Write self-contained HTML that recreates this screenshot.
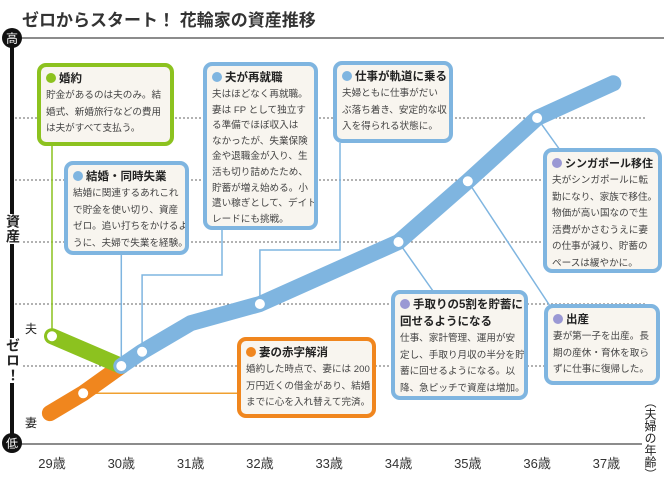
<!DOCTYPE html>
<html><head><meta charset="utf-8">
<style>
body{margin:0;width:664px;height:480px;overflow:hidden;background:#fff;font-family:"Liberation Sans","Noto Sans CJK JP",sans-serif;color:#333;position:relative}
.box{position:absolute;box-sizing:border-box;border:4px solid #7fb5e0;border-radius:9px;background:#f8f5ef;padding:3px 5px;font-size:9.6px;line-height:16.5px;color:#444;white-space:nowrap;overflow:hidden}
.box h3{margin:0;font-size:11.5px;line-height:18px;color:#222;font-weight:bold}
.dot{display:inline-block;width:10px;height:10px;border-radius:50%;margin-right:3px;vertical-align:-1px}
.lbl{position:absolute;font-size:12px;color:#222}
.vt{position:absolute;writing-mode:vertical-rl;font-size:14px;font-weight:bold;color:#222;letter-spacing:1px}
</style></head><body>
<div style="position:absolute;left:22px;top:6px;font-size:17px;font-weight:bold;color:#333">ゼロからスタート！ 花輪家の資産推移</div>
<svg id="chart" width="664" height="480" style="position:absolute;left:0;top:0">
<g id="grid"></g><g id="conn"></g><g id="lines"></g><g id="axes"></g>
</svg>
<div class="vt" style="left:3px;top:214px;background:#fff">資産</div>
<div class="vt" style="left:3px;top:338px;background:#fff">ゼロ！</div>
<div class="lbl" style="left:25px;top:320px">夫</div>
<div class="lbl" style="left:25px;top:414px">妻</div>
<div class="vt" style="left:642px;top:396px;font-weight:normal;font-size:12px;letter-spacing:0">（夫婦の年齢）</div>

<div class="box" style="left:37px;top:63px;width:137px;height:83px;border-color:#8cc21f"><h3><span class="dot" style="background:#8cc21f"></span>婚約</h3>貯金があるのは夫のみ。結<br>婚式、新婚旅行などの費用<br>は夫がすべて支払う。</div>
<div class="box" style="left:64px;top:161px;width:125px;height:94px"><h3><span class="dot" style="background:#7fb5e0"></span>結婚・同時失業</h3>結婚に関連するあれこれ<br>で貯金を使い切り、資産<br>ゼロ。追い打ちをかけるよ<br>うに、夫婦で失業を経験。</div>
<div class="box" style="left:203px;top:62px;width:115px;height:168px;line-height:15.6px"><h3><span class="dot" style="background:#7fb5e0"></span>夫が再就職</h3>夫はほどなく再就職。<br>妻は FP として独立す<br>る準備でほぼ収入は<br>なかったが、失業保険<br>金や退職金が入り、生<br>活も切り詰めたため、<br>貯蓄が増え始める。小<br>遣い稼ぎとして、デイト<br>レードにも挑戦。</div>
<div class="box" style="left:333px;top:61px;width:120px;height:82px"><h3><span class="dot" style="background:#7fb5e0"></span>仕事が軌道に乗る</h3>夫婦ともに仕事がだい<br>ぶ落ち着き、安定的な収<br>入を得られる状態に。</div>
<div class="box" style="left:543px;top:148px;width:119px;height:125px"><h3 style="font-size:11px"><span class="dot" style="background:#9a98d4"></span>シンガポール移住</h3>夫がシンガポールに転<br>勤になり、家族で移住。<br>物価が高い国なので生<br>活費がかさむうえに妻<br>の仕事が減り、貯蓄の<br>ペースは緩やかに。</div>
<div class="box" style="left:391px;top:290px;width:137px;height:110px"><h3 style="line-height:17px"><span class="dot" style="background:#9a98d4"></span>手取りの5割を貯蓄に<br>回せるようになる</h3>仕事、家計管理、運用が安<br>定し、手取り月収の半分を貯<br>蓄に回せるようになる。以<br>降、急ピッチで資産は増加。</div>
<div class="box" style="left:544px;top:304px;width:116px;height:81px"><h3><span class="dot" style="background:#9a98d4"></span>出産</h3>妻が第一子を出産。長<br>期の産休・育休を取ら<br>ずに仕事に復帰した。</div>
<div class="box" style="left:237px;top:337px;width:139px;height:81px;border-color:#f0861e"><h3><span class="dot" style="background:#f0861e"></span>妻の赤字解消</h3>婚約した時点で、妻には 200<br>万円近くの借金があり、結婚<br>までに心を入れ替えて完済。</div>

<script>
// data
const ageLabels = ["29歳","30歳","31歳","32歳","33歳","34歳","35歳","36歳","37歳"];
const gridValues = [1,2,3,4];
const husbandAges = [29,30];
const husbandValues = [0.48,0];
const wifeAges = [28.97,29.45,30];
const wifeValues = [-0.76,-0.44,0];
const coupleAges = [30,30.3,31,32,34,35,36,37.1];
const coupleValues = [0,0.23,0.69,1.0,2.0,2.98,4.0,4.56];
const coupleMarkers = [0,1,3,4,5,6];

const X = a => 52 + (a-29)*69.3;
const Y = v => 366 - v*62;
const NS="http://www.w3.org/2000/svg";
function mk(parent,tag,attrs){const e=document.createElementNS(NS,tag);for(const k in attrs)e.setAttribute(k,attrs[k]);document.getElementById(parent).appendChild(e);return e;}

[0].concat(gridValues).forEach(v=>{
  const l=mk('grid','line',{x1:15,x2:645,y1:Y(v),y2:Y(v),stroke:'#666','stroke-width':1,'stroke-dasharray':'2,2'});
  
  
});
const C=(pts,col,name)=>{const p=mk('conn','polyline',{points:pts,fill:'none',stroke:col,'stroke-width':1.5});
  
  };
C(`${X(29)},146 ${X(29)},${Y(0.48)}`,'#8cc21f','connector-engagement');
C(`${X(30)},255 ${X(30)},${Y(0)}`,'#7fb5e0','connector-marriage');
C(`222,230 222,275 ${X(30.3)},275 ${X(30.3)},${Y(0.23)}`,'#7fb5e0','connector-reemployment');
C(`340,143 340,250 ${X(32)},250 ${X(32)},${Y(1)}`,'#7fb5e0','connector-work-stable');
C(`${X(36)},${Y(4)} 560,150`,'#7fb5e0','connector-singapore');
C(`${X(34)},${Y(2)} 433,291`,'#7fb5e0','connector-savings-half');
C(`${X(35)},${Y(2.98)} 550,306`,'#7fb5e0','connector-birth');
C(`${X(29.45)},${Y(-0.44)} 238,${Y(-0.44)}`,'#f0a030','connector-wife-debt');

function series(ages,vals,col,name){
  const p=mk('lines','polyline',{points:ages.map((a,i)=>X(a)+','+Y(vals[i])).join(' '),fill:'none',stroke:col,'stroke-width':16,'stroke-linecap':'round','stroke-linejoin':'round'});
  
  
}
function marker(a,v){
  const c=mk('lines','circle',{cx:X(a),cy:Y(v),r:5,fill:'#fff'});
  
  
}
series(wifeAges,wifeValues,'#f0861e','wife-line');
series(husbandAges,husbandValues,'#8cc21f','husband-line');
series(coupleAges,coupleValues,'#7fb5e0','couple-line');
marker(husbandAges[0],husbandValues[0]);
marker(wifeAges[1],wifeValues[1]);
coupleMarkers.forEach(i=>marker(coupleAges[i],coupleValues[i]));

mk('axes','line',{x1:12,x2:12,y1:38,y2:443,stroke:'#111','stroke-width':4});
mk('axes','line',{x1:12,x2:664,y1:38,y2:38,stroke:'#666','stroke-width':1.5});
mk('axes','line',{x1:12,x2:642,y1:444,y2:444,stroke:'#666','stroke-width':1.5});
[['高',38,'y-axis-high'],['低',443,'y-axis-low']].forEach(([t,y,n])=>{
  const c=mk('axes','circle',{cx:12,cy:y,r:10,fill:'#111'});
  
  
  const tx=mk('axes','text',{x:12,y:y+4.5,'text-anchor':'middle','font-size':12,fill:'#fff'});
  tx.textContent=t;
  
  
});
ageLabels.forEach((t,i)=>{
  const tx=mk('axes','text',{x:X(29+i),y:468,'text-anchor':'middle','font-size':13,fill:'#333'});
  tx.textContent=t;
  
  
});
</script>
</body></html>
